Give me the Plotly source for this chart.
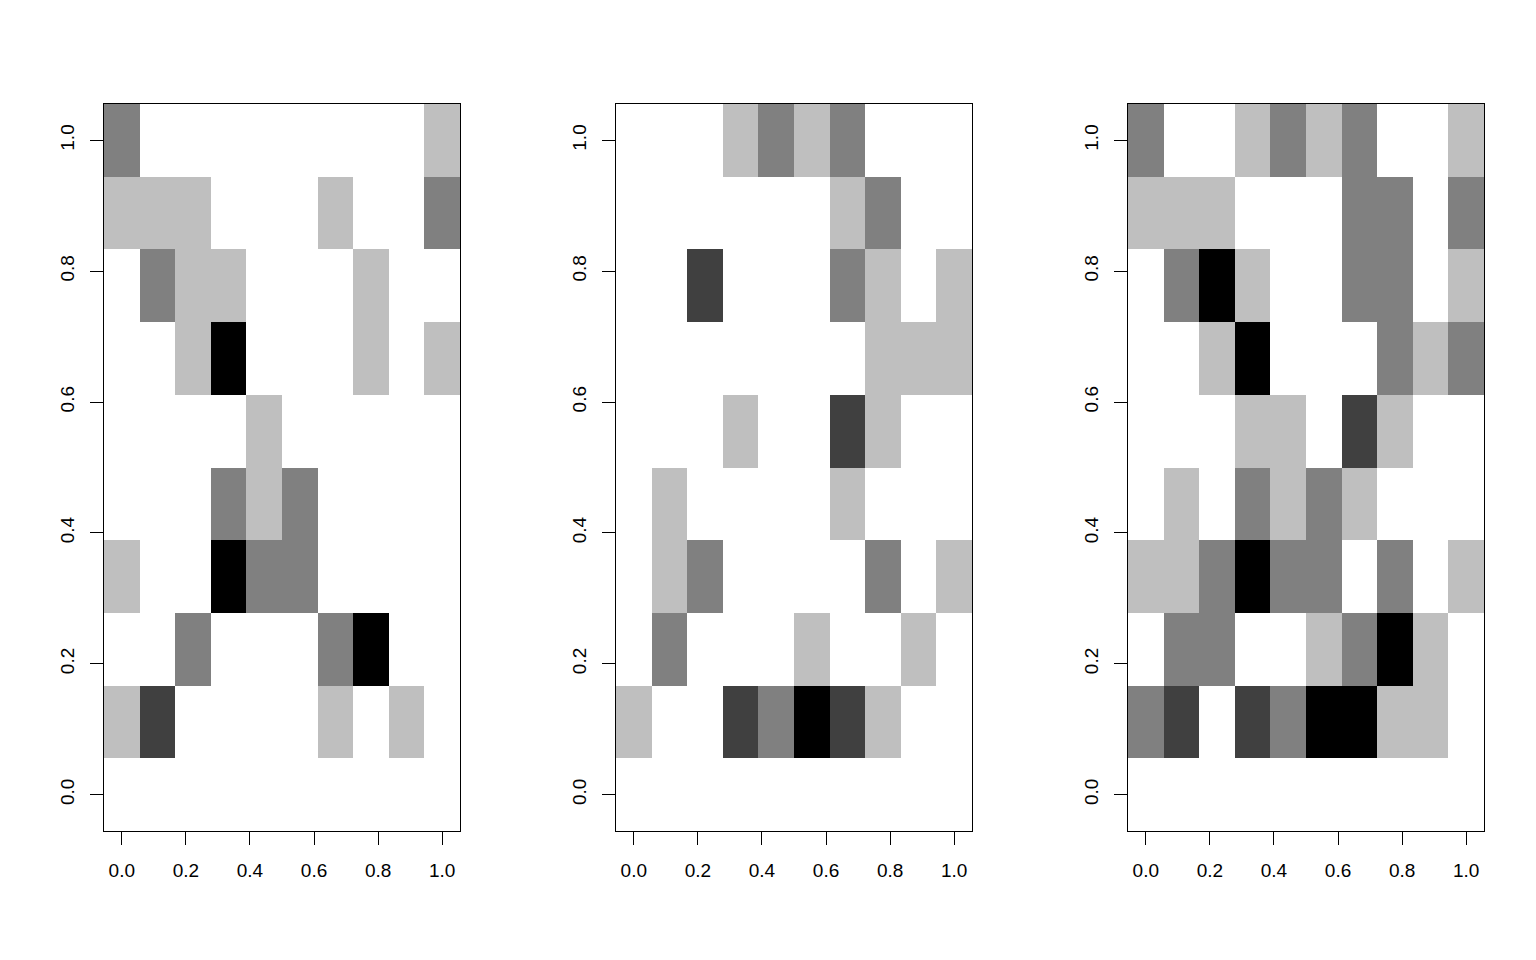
import plotly.graph_objects as go

# grid coordinates (cell centres)
x_vals = [i / 9 for i in range(10)]
y_vals = [i / 9 for i in range(10)]
tick_vals = [0.0, 0.2, 0.4, 0.6, 0.8, 1.0]
tick_text = ["0.0", "0.2", "0.4", "0.6", "0.8", "1.0"]

# rows listed top (y=1.0) to bottom (y=0.0)
panel1 = [
    [2, 0, 0, 0, 0, 0, 0, 0, 0, 1],
    [1, 1, 1, 0, 0, 0, 1, 0, 0, 2],
    [0, 2, 1, 1, 0, 0, 0, 1, 0, 0],
    [0, 0, 1, 4, 0, 0, 0, 1, 0, 1],
    [0, 0, 0, 0, 1, 0, 0, 0, 0, 0],
    [0, 0, 0, 2, 1, 2, 0, 0, 0, 0],
    [1, 0, 0, 4, 2, 2, 0, 0, 0, 0],
    [0, 0, 2, 0, 0, 0, 2, 4, 0, 0],
    [1, 3, 0, 0, 0, 0, 1, 0, 1, 0],
    [0, 0, 0, 0, 0, 0, 0, 0, 0, 0],
]
panel2 = [
    [0, 0, 0, 1, 2, 1, 2, 0, 0, 0],
    [0, 0, 0, 0, 0, 0, 1, 2, 0, 0],
    [0, 0, 3, 0, 0, 0, 2, 1, 0, 1],
    [0, 0, 0, 0, 0, 0, 0, 1, 1, 1],
    [0, 0, 0, 1, 0, 0, 3, 1, 0, 0],
    [0, 1, 0, 0, 0, 0, 1, 0, 0, 0],
    [0, 1, 2, 0, 0, 0, 0, 2, 0, 1],
    [0, 2, 0, 0, 0, 1, 0, 0, 1, 0],
    [1, 0, 0, 3, 2, 4, 3, 1, 0, 0],
    [0, 0, 0, 0, 0, 0, 0, 0, 0, 0],
]
panel3 = [
    [2, 0, 0, 1, 2, 1, 2, 0, 0, 1],
    [1, 1, 1, 0, 0, 0, 2, 2, 0, 2],
    [0, 2, 4, 1, 0, 0, 2, 2, 0, 1],
    [0, 0, 1, 4, 0, 0, 0, 2, 1, 2],
    [0, 0, 0, 1, 1, 0, 3, 1, 0, 0],
    [0, 1, 0, 2, 1, 2, 1, 0, 0, 0],
    [1, 1, 2, 4, 2, 2, 0, 2, 0, 1],
    [0, 2, 2, 0, 0, 1, 2, 4, 1, 0],
    [2, 3, 0, 3, 2, 4, 4, 1, 1, 0],
    [0, 0, 0, 0, 0, 0, 0, 0, 0, 0],
]

colorscale = [
    [0.0, "#FFFFFF"],
    [0.25, "#BFBFBF"],
    [0.5, "#808080"],
    [0.75, "#404040"],
    [1.0, "#000000"],
]

W, H = 1536, 960
OFF = 7  # page body margin
x_doms = [(103, 459), (615, 971), (1127, 1483)]
y_dom = (1 - (830 - OFF) / H, 1 - (103 - OFF) / H)

fig = go.Figure()
font = dict(family="Liberation Sans, Arial, sans-serif", size=19, color="black")
rng = [-1 / 18, 1 + 1 / 18]

for i, data in enumerate([panel1, panel2, panel3]):
    xa = "x" if i == 0 else f"x{i+1}"
    ya = "y" if i == 0 else f"y{i+1}"
    fig.add_trace(go.Heatmap(
        x=x_vals, y=y_vals, z=data[::-1],
        zmin=0, zmax=4, colorscale=colorscale, showscale=False,
        xaxis=xa, yaxis=ya, hoverinfo="skip",
    ))
    axcommon = dict(
        range=rng, showgrid=False, zeroline=False,
        showline=True, mirror=True, linecolor="black", linewidth=1,
        ticks="outside", ticklen=13, tickwidth=1, tickcolor="black",
        tickvals=tick_vals, ticktext=tick_text, tickfont=font,
    )
    xkey = "xaxis" if i == 0 else f"xaxis{i+1}"
    ykey = "yaxis" if i == 0 else f"yaxis{i+1}"
    fig.update_layout(**{
        xkey: dict(domain=[(x_doms[i][0] - OFF) / W, (x_doms[i][1] - OFF) / W],
                   anchor=ya, ticklabelstandoff=9, **axcommon),
        ykey: dict(domain=list(y_dom), anchor=xa, tickangle=-90,
                   ticklabelstandoff=8, **axcommon),
    })

fig.update_layout(
    width=W, height=H,
    margin=dict(l=0, r=0, t=0, b=0),
    paper_bgcolor="white", plot_bgcolor="white",
    showlegend=False,
)

fig.write_html("out.html")
